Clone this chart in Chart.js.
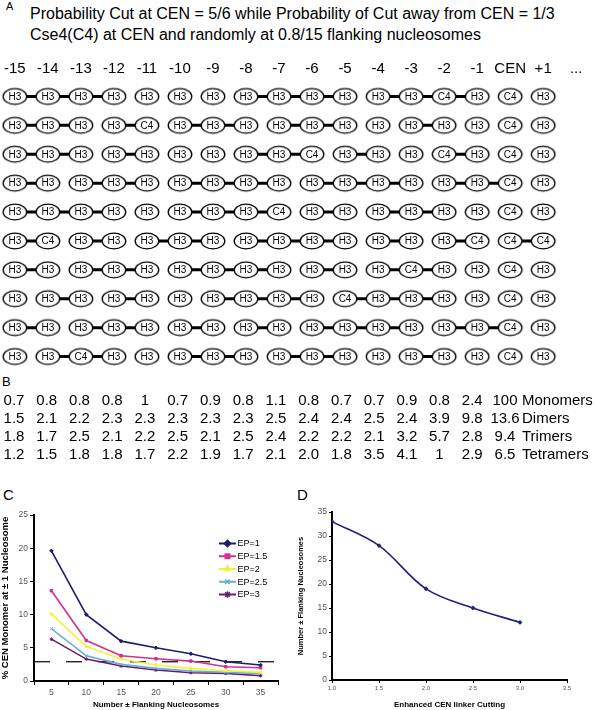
<!DOCTYPE html>
<html><head><meta charset="utf-8">
<script src="https://cdn.jsdelivr.net/npm/chart.js@4.4.0/dist/chart.umd.min.js"></script>
<style>
html,body{margin:0;padding:0;background:#fff;width:596px;height:710px;overflow:hidden;font-family:"Liberation Sans",Arial,sans-serif;color:#000}
.abs{position:absolute;white-space:nowrap}
canvas{display:block}
</style></head><body>
<div class="abs" style="left:6px;top:0px;font-size:11px">A</div>
<div class="abs" style="left:30px;top:3px;font-size:16px;line-height:21px">Probability Cut at CEN = 5/6 while Probability of Cut away from CEN = 1/3<br>Cse4(C4) at CEN and randomly at 0.8/15 flanking nucleosomes</div>
<div class="abs" style="left:2px;top:374px;font-size:13px">B</div>
<div class="abs" style="left:3px;top:486px;font-size:15px">C</div>
<div class="abs" style="left:297px;top:486px;font-size:15px">D</div>
<div class="abs" style="left:0;top:60px"><canvas id="cA" width="596" height="311"></canvas></div>
<div class="abs" style="left:0;top:392px"><canvas id="cB" width="596" height="72"></canvas></div>
<div class="abs" style="left:0;top:500px"><canvas id="cC" width="292" height="210"></canvas></div>
<div class="abs" style="left:296px;top:500px"><canvas id="cD" width="300" height="210"></canvas></div>
<script>
// ---------- Panel A data ----------
const positionLabels = ['-15','-14','-13','-12','-11','-10','-9','-8','-7','-6','-5','-4','-3','-2','-1','CEN','+1','...'];
const nucleosomeCount = 17;
// columns (0 = -15 ... 15 = CEN, 16 = +1) holding Cse4 (C4) in each row
const c4Columns = [
  [13,15],
  [4,15],
  [9,13,15],
  [15],
  [8,15],
  [1,14,15,16],
  [12,15],
  [10,15],
  [15],
  [2,15]
];
// linker present between column i and i+1 (1 = uncut linker)
const linkerRows = [
  [1,1,1,0,0,0,0,1,1,1,0,1,1,1,0,0],
  [1,1,0,1,0,1,1,0,1,1,0,0,1,0,0,0],
  [1,1,0,1,0,0,0,1,1,0,1,0,0,1,0,0],
  [1,0,1,1,0,1,1,1,0,1,1,1,0,1,1,0],
  [1,1,1,0,0,1,1,1,0,1,0,1,1,0,0,0],
  [1,0,1,0,1,1,0,1,1,1,0,1,0,1,0,1],
  [1,0,1,1,0,1,1,1,0,1,0,1,1,0,0,0],
  [0,1,0,1,0,0,1,1,1,0,1,1,1,0,0,0],
  [1,0,1,1,0,1,0,1,0,1,1,1,0,1,1,0],
  [0,1,1,0,0,1,1,0,1,1,0,0,1,0,0,0]
];
// ---------- Panel B data ----------
const monomers  = ['0.7','0.8','0.8','0.8','1','0.7','0.9','0.8','1.1','0.8','0.7','0.7','0.9','0.8','2.4','100'];
const dimers    = ['1.5','2.1','2.2','2.3','2.3','2.3','2.3','2.3','2.5','2.4','2.4','2.5','2.4','3.9','9.8','13.6'];
const trimers   = ['1.8','1.7','2.5','2.1','2.2','2.5','2.1','2.5','2.4','2.2','2.2','2.1','3.2','5.7','2.8','9.4'];
const tetramers = ['1.2','1.5','1.8','1.8','1.7','2.2','1.9','1.7','2.1','2.0','1.8','3.5','4.1','1','2.9','6.5'];
const fragmentLabels = ['Monomers','Dimers','Trimers','Tetramers'];
// ---------- Panel C data ----------
const flankingCategories = ['5','10','15','20','25','30','35'];
const ep1  = [19.6,10.0,6.0,5.0,4.1,2.9,2.4];
const ep15 = [13.6,6.1,3.8,3.35,3.0,2.15,2.0];
const ep2  = [10.1,5.2,3.3,2.4,1.9,1.55,1.3];
const ep25 = [7.9,3.8,2.5,1.9,1.5,1.3,1.15];
const ep3  = [6.3,3.3,2.25,1.65,1.25,1.15,0.8];
const thresholdLevel = 2.9;
// ---------- Panel D data ----------
const cenCutting = [1,1.5,2,2.5,3];
const flankingNeeded = [33,28,19,15,12];

Chart.defaults.font.family = '"Liberation Sans", Arial, sans-serif';
Chart.defaults.color = '#000';
Chart.defaults.animation = false;

// ===== Panel A =====
function ellipseImage(){
  const c = document.createElement('canvas'); c.width = 28; c.height = 20;
  const g = c.getContext('2d');
  g.beginPath(); g.ellipse(14,10,11.8,7.8,0,0,Math.PI*2);
  g.fillStyle='#fff'; g.fill(); g.lineWidth=1.3; g.strokeStyle='#000'; g.stroke();
  return c;
}
const ellipse = ellipseImage();
const nodePoints = [], nodeTypes = [];
c4Columns.forEach((cols, r) => {
  for (let i = 0; i < nucleosomeCount; i++) {
    nodePoints.push({x:i, y:r+1});
    nodeTypes.push(cols.includes(i) ? 'C4' : 'H3');
  }
});
// linker lines: a gap (null) wherever the linker was cut
const linkerSets = linkerRows.map((links, r) => {
  const pts = [];
  for (let i = 0; i < nucleosomeCount; i++) {
    pts.push({x:i, y:r+1});
    if (i < nucleosomeCount - 1 && !links[i]) pts.push({x:i+0.5, y:null});
  }
  return {data: pts, showLine:true, spanGaps:false, pointRadius:0, borderWidth:3,
          borderColor:'#000', order:2};
});
const nodeSet = {data: nodePoints, pointStyle: ellipse, pointRadius: 12, order:1};
const nodeLabelPlugin = {
  id:'nodeLabels',
  afterDatasetsDraw(chart){
    const meta = chart.getDatasetMeta(chart.data.datasets.length-1);
    const ctx = chart.ctx; ctx.save();
    ctx.font = '10px "Liberation Sans", Arial'; ctx.fillStyle='#000';
    ctx.textAlign='center'; ctx.textBaseline='middle';
    meta.data.forEach((el,i) => ctx.fillText(nodeTypes[i], el.x, el.y+0.5));
    ctx.restore();
  }
};
new Chart(document.getElementById('cA'), {
  type:'scatter',
  data:{datasets:[...linkerSets, nodeSet]},
  options:{
    responsive:false,
    layout:{padding:0, autoPadding:false},
    plugins:{legend:{display:false}, tooltip:{enabled:false}},
    scales:{
      x:{type:'linear', min:-0.392, max:17.6, position:'top',
        grid:{display:false, drawTicks:false}, border:{display:false},
        afterBuildTicks: s => { s.ticks = positionLabels.map((_, i) => ({value:i})); },
        afterFit: s => { s.height = 22; },
        ticks:{font:{size:15}, color:'#000', padding:4, maxRotation:0, autoSkip:false,
          callback: v => positionLabels[v]}},
      y:{type:'linear', reverse:true, min:0.5, max:10.5, display:false}
    }
  },
  plugins:[nodeLabelPlugin]
});

// ===== Panel B =====
const tableRows = [monomers, dimers, trimers, tetramers];
const cellPoints = [];
tableRows.forEach((row, r) => row.forEach((v, i) => cellPoints.push({x:i, y:r+1})));
const tablePlugin = {
  id:'tableText',
  afterDatasetsDraw(chart){
    const ctx = chart.ctx, xs = chart.scales.x, ys = chart.scales.y;
    const meta = chart.getDatasetMeta(0);
    const flat = tableRows.flat();
    ctx.save(); ctx.font='15px "Liberation Sans", Arial'; ctx.fillStyle='#000';
    ctx.textAlign='center'; ctx.textBaseline='middle';
    meta.data.forEach((el,i) => ctx.fillText(flat[i], el.x, el.y));
    ctx.textAlign='left';
    fragmentLabels.forEach((t, r) => ctx.fillText(t, xs.getPixelForValue(15) + 17, ys.getPixelForValue(r+1)));
    ctx.restore();
  }
};
new Chart(document.getElementById('cB'), {
  type:'scatter',
  data:{datasets:[{data: cellPoints, pointRadius:0}]},
  options:{
    responsive:false, layout:{padding:0, autoPadding:false},
    plugins:{legend:{display:false}, tooltip:{enabled:false}},
    scales:{ x:{type:'linear', min:-0.428, max:17.78, display:false},
             y:{type:'linear', reverse:true, min:0.5, max:4.5, display:false} }
  },
  plugins:[tablePlugin]
});

// ===== Panel C =====
const epLegend = {
  id:'epLegend',
  afterDraw(chart){
    const ctx = chart.ctx;
    chart.data.datasets.forEach((ds, i) => {
      if (!ds.label.startsWith('EP')) return;
      const y = 43.5 + i*12.75;
      ctx.save();
      ctx.strokeStyle = ds.borderColor; ctx.lineWidth = 2;
      ctx.beginPath(); ctx.moveTo(219, y); ctx.lineTo(236, y); ctx.stroke();
      ctx.fillStyle = ds.borderColor; ctx.lineWidth = 1.5;
      Chart.helpers.drawPoint(ctx, {pointStyle: ds.pointStyle, radius: 3.2, borderWidth: 1.5, rotation: 0}, 227.5, y);
      ctx.fillStyle = '#000'; ctx.font = '9px "Liberation Sans", Arial';
      ctx.textBaseline = 'middle'; ctx.textAlign = 'left';
      ctx.fillText(ds.label, 237.5, y + 0.5);
      ctx.restore();
    });
  }
};
function epSet(label, data, color, style){
  return {label, data, borderColor:color, backgroundColor:color, pointBorderColor:color,
    pointBackgroundColor:color, pointStyle:style, pointRadius:1.8, pointBorderWidth:1,
    borderWidth:1.6, tension:0, xAxisID:'x'};
}
new Chart(document.getElementById('cC'), {
  type:'line',
  data:{labels: flankingCategories, datasets:[
    epSet('EP=1', ep1, '#1c1c70', 'rectRot'),
    epSet('EP=1.5', ep15, '#d0328e', 'rect'),
    epSet('EP=2', ep2, '#f2f23a', 'triangle'),
    epSet('EP=2.5', ep25, '#6aaed0', 'crossRot'),
    epSet('EP=3', ep3, '#6a1a6e', 'star'),
    {label:'threshold', data:[{x:0, y:thresholdLevel},{x:1, y:thresholdLevel}], xAxisID:'x2',
     borderColor:'#000', borderWidth:1.2, borderDash:[16,16], pointRadius:0, order:10}
  ]},
  options:{
    responsive:false,
    layout:{padding:{top:15, right:14, left:0, bottom:0}, autoPadding:false},
    plugins:{legend:{display:false}, tooltip:{enabled:false}},
    scales:{
      x:{type:'category', offset:true,
        grid:{offset:true, drawOnChartArea:false, tickLength:4, color:'#000', lineWidth:1},
        border:{color:'#000', width:2},
        ticks:{font:{size:8.5}, color:'#555', padding:3, maxRotation:0},
        title:{display:true, text:'Number ± Flanking Nucleosomes', font:{size:8, weight:'bold'}, color:'#000', padding:{top:3, bottom:0}},
        afterFit: s => { s.height = 29; }},
      x2:{type:'linear', min:0, max:1, display:false},
      y:{min:0, max:25,
        grid:{drawOnChartArea:false, tickLength:4, color:'#000', lineWidth:1},
        border:{color:'#000', width:2},
        ticks:{stepSize:5, font:{size:8.5}, color:'#555', padding:2},
        title:{display:true, text:'% CEN Monomer at ± 1 Nucleosome', font:{size:9.5, weight:'bold'}, color:'#000', padding:{top:0, bottom:2}},
        afterFit: s => { s.width = 34; }}
    }
  },
  plugins:[epLegend]
});

// ===== Panel D =====
new Chart(document.getElementById('cD'), {
  type:'scatter',
  data:{datasets:[{label:'flanking', data: cenCutting.map((x, i) => ({x, y: flankingNeeded[i]})),
    showLine:true, tension:0.35, borderColor:'#22227a', backgroundColor:'#22227a',
    borderWidth:1.6, pointRadius:1.3, pointStyle:'rectRot'}]},
  options:{
    responsive:false,
    layout:{padding:{top:12, right:29, left:0, bottom:0}, autoPadding:false},
    plugins:{legend:{display:false}, tooltip:{enabled:false}},
    scales:{
      x:{type:'linear', min:1, max:3.5,
        grid:{drawOnChartArea:false, tickLength:3, color:'#000'},
        border:{color:'#000', width:2},
        ticks:{stepSize:0.5, font:{size:6}, color:'#555', padding:2, maxRotation:0},
        title:{display:true, text:'Enhanced CEN linker Cutting', font:{size:8, weight:'bold'}, color:'#000', padding:{top:4, bottom:0}},
        afterFit: s => { s.height = 30; }},
      y:{min:0, max:35,
        grid:{drawOnChartArea:false, tickLength:3, color:'#000'},
        border:{color:'#000', width:2},
        ticks:{stepSize:5, font:{size:8.5}, color:'#555', padding:2},
        title:{display:true, text:'Number ± Flanking Nucleosomes', font:{size:7.5, weight:'bold'}, color:'#000', padding:{top:0, bottom:2}},
        afterFit: s => { s.width = 36; }}
    }
  }
});
</script>
</body></html>
